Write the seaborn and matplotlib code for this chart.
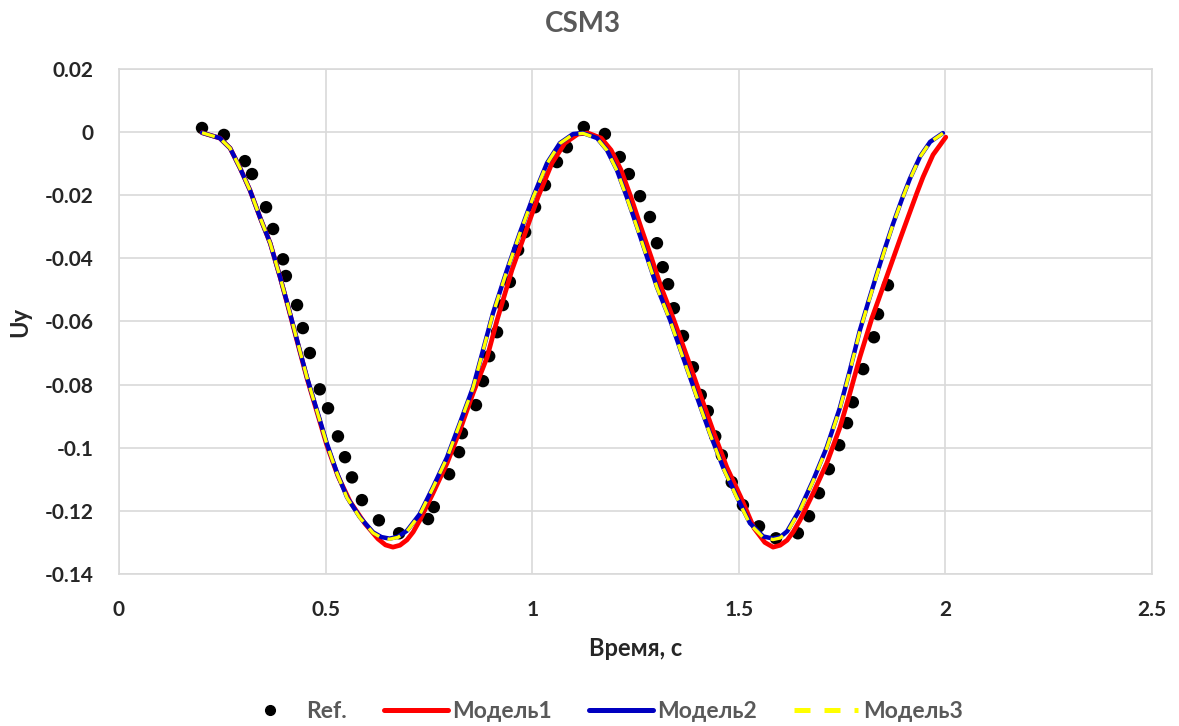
import pandas as pd
import matplotlib
matplotlib.use("Agg")
import matplotlib.pyplot as plt
import seaborn as sns
from matplotlib.lines import Line2D

# Reference points (Ref.)
ref_t = [0.201, 0.254, 0.305, 0.322, 0.356, 0.373, 0.397, 0.404, 0.431, 0.445,
         0.462, 0.486, 0.506, 0.530, 0.547, 0.564, 0.588, 0.629, 0.678, 0.748,
         0.762, 0.799, 0.823, 0.830, 0.864, 0.881, 0.896, 0.915, 0.929, 0.946,
         0.966, 0.983, 1.007, 1.031, 1.060, 1.084, 1.125, 1.176, 1.212, 1.234,
         1.261, 1.285, 1.302, 1.316, 1.329, 1.343, 1.365, 1.389, 1.408, 1.425,
         1.443, 1.459, 1.483, 1.510, 1.549, 1.590, 1.643, 1.670, 1.694, 1.718,
         1.743, 1.762, 1.776, 1.801, 1.827, 1.837, 1.861]
ref_uy = [0.0013, -0.0009, -0.0092, -0.0133, -0.0238, -0.0307, -0.0403, -0.0456, -0.0548, -0.0621,
          -0.0700, -0.0815, -0.0875, -0.0964, -0.1030, -0.1094, -0.1166, -0.1230, -0.1271, -0.1226,
          -0.1188, -0.1084, -0.1014, -0.0954, -0.0865, -0.0789, -0.0710, -0.0634, -0.0548, -0.0475,
          -0.0374, -0.0317, -0.0238, -0.0168, -0.0095, -0.0048, 0.0016, -0.0006, -0.0079, -0.0133,
          -0.0203, -0.0269, -0.0352, -0.0428, -0.0482, -0.0558, -0.0646, -0.0745, -0.0833, -0.0884,
          -0.0964, -0.1024, -0.1109, -0.1182, -0.1249, -0.1287, -0.1271, -0.1217, -0.1144, -0.1068,
          -0.0992, -0.0922, -0.0856, -0.0751, -0.0650, -0.0577, -0.0485]

# Модель1 (red)
m1_t = [0.201, 0.244, 0.269, 0.293, 0.317, 0.341, 0.366, 0.390, 0.409, 0.431,
        0.455, 0.479, 0.503, 0.530, 0.559, 0.595, 0.627, 0.645, 0.663, 0.680,
        0.697, 0.712, 0.728, 0.760, 0.794, 0.825, 0.857, 0.891, 0.915, 0.951,
        0.983, 1.014, 1.048, 1.079, 1.111, 1.135, 1.167, 1.191, 1.215, 1.239,
        1.263, 1.288, 1.312, 1.343, 1.375, 1.409, 1.440, 1.471, 1.505, 1.537,
        1.563, 1.583, 1.600, 1.617, 1.632, 1.648, 1.680, 1.713, 1.745, 1.769,
        1.793, 1.822, 1.849, 1.871, 1.890, 1.910, 1.931, 1.946, 1.970, 2.001]
m1_uy = [-0.0002, -0.0019, -0.0051, -0.0114, -0.0184, -0.0269, -0.0352, -0.0460, -0.0552, -0.0662,
         -0.0780, -0.0886, -0.0992, -0.1090, -0.1170, -0.1240, -0.1289, -0.1308, -0.1315, -0.1309,
         -0.1292, -0.1267, -0.1230, -0.1144, -0.1049, -0.0945, -0.0827, -0.0713, -0.0596, -0.0437,
         -0.0320, -0.0206, -0.0098, -0.0035, -0.0006, -0.0003, -0.0019, -0.0057, -0.0120, -0.0206,
         -0.0301, -0.0396, -0.0491, -0.0596, -0.0713, -0.0840, -0.0954, -0.1062, -0.1157, -0.1255,
         -0.1300, -0.1315, -0.1309, -0.1293, -0.1266, -0.1230, -0.1144, -0.1049, -0.0935, -0.0827,
         -0.0713, -0.0590, -0.0491, -0.0410, -0.0340, -0.0268, -0.0193, -0.0142, -0.0072, -0.0016]

# Модель2 (blue) and Модель3 (yellow dashed) share the time grid
m_t = [0.201, 0.244, 0.269, 0.293, 0.317, 0.341, 0.366, 0.390, 0.409, 0.431,
       0.455, 0.479, 0.503, 0.528, 0.552, 0.583, 0.615, 0.635, 0.655, 0.675,
       0.697, 0.728, 0.760, 0.794, 0.825, 0.857, 0.881, 0.905, 0.939, 0.970,
       1.002, 1.036, 1.067, 1.099, 1.123, 1.157, 1.181, 1.205, 1.229, 1.254,
       1.278, 1.302, 1.334, 1.365, 1.399, 1.430, 1.462, 1.496, 1.527, 1.559,
       1.583, 1.600, 1.617, 1.648, 1.680, 1.713, 1.745, 1.769, 1.793, 1.813,
       1.834, 1.854, 1.873, 1.895, 1.914, 1.939, 1.963, 1.994]
m2_uy = [-0.0002, -0.0019, -0.0051, -0.0114, -0.0184, -0.0269, -0.0352, -0.0460, -0.0550, -0.0659,
         -0.0777, -0.0881, -0.0986, -0.1081, -0.1157, -0.1220, -0.1268, -0.1283, -0.1288, -0.1282,
         -0.1263, -0.1210, -0.1125, -0.1030, -0.0922, -0.0808, -0.0691, -0.0574, -0.0437, -0.0320,
         -0.0206, -0.0098, -0.0035, -0.0006, -0.0003, -0.0019, -0.0057, -0.0120, -0.0206, -0.0301,
         -0.0396, -0.0491, -0.0596, -0.0713, -0.0840, -0.0954, -0.1062, -0.1157, -0.1239, -0.1281,
         -0.1288, -0.1283, -0.1265, -0.1195, -0.1103, -0.0998, -0.0872, -0.0754, -0.0628, -0.0540,
         -0.0450, -0.0367, -0.0292, -0.0212, -0.0148, -0.0077, -0.0031, -0.0003]
m3_uy = [-0.0002, -0.0019, -0.0051, -0.0114, -0.0184, -0.0269, -0.0352, -0.0460, -0.0550, -0.0659,
         -0.0778, -0.0883, -0.0988, -0.1083, -0.1159, -0.1222, -0.1270, -0.1285, -0.1290, -0.1284,
         -0.1265, -0.1212, -0.1127, -0.1032, -0.0924, -0.0810, -0.0693, -0.0576, -0.0439, -0.0322,
         -0.0208, -0.0100, -0.0036, -0.0007, -0.0004, -0.0020, -0.0058, -0.0122, -0.0208, -0.0303,
         -0.0398, -0.0493, -0.0598, -0.0715, -0.0842, -0.0956, -0.1064, -0.1160, -0.1242, -0.1284,
         -0.1291, -0.1286, -0.1268, -0.1198, -0.1106, -0.1001, -0.0875, -0.0757, -0.0631, -0.0543,
         -0.0453, -0.0370, -0.0294, -0.0214, -0.0150, -0.0078, -0.0032, -0.0004]

x_ticks = [0, 0.5, 1, 1.5, 2, 2.5]
x_tick_labels = ["0", "0.5", "1", "1.5", "2", "2.5"]
y_ticks = [0.02, 0, -0.02, -0.04, -0.06, -0.08, -0.1, -0.12, -0.14]
y_tick_labels = ["0.02", "0", "-0.02", "-0.04", "-0.06", "-0.08", "-0.1", "-0.12", "-0.14"]

sns.set_style("white")
plt.rcParams['font.family'] = ['Lato', 'DejaVu Sans']

ref_df = pd.DataFrame({'t': ref_t, 'uy': ref_uy})
m1_df = pd.DataFrame({'t': m1_t, 'uy': m1_uy})
m2_df = pd.DataFrame({'t': m_t, 'uy': m2_uy})
m3_df = pd.DataFrame({'t': m_t, 'uy': m3_uy})

fig = plt.figure(figsize=(11.79, 7.26), dpi=100)
ax = fig.add_axes([0.1009, 0.2094, 0.8762, 0.6956])

sns.scatterplot(data=ref_df, x='t', y='uy', ax=ax, color='black', s=80,
                edgecolor='none', zorder=2)
sns.lineplot(data=m1_df, x='t', y='uy', ax=ax, color='#ff0000', linewidth=3.4,
             sort=False, estimator=None, zorder=3, solid_joinstyle='round')
sns.lineplot(data=m2_df, x='t', y='uy', ax=ax, color='#0000c0', linewidth=3.2,
             sort=False, estimator=None, zorder=4, solid_joinstyle='round')
sns.lineplot(data=m3_df, x='t', y='uy', ax=ax, color='#ffff00', linewidth=2.4,
             sort=False, estimator=None, zorder=5, dashes=False,
             linestyle=(0, (4.0, 2.6)), dash_joinstyle='round')

ax.set_xlim(0, 2.5)
ax.set_ylim(-0.14, 0.02)
ax.set_xticks(x_ticks)
ax.set_xticklabels(x_tick_labels)
ax.set_yticks(y_ticks)
ax.set_yticklabels(y_tick_labels)
ax.grid(True, color='#d9d9d9', linewidth=1.2)
ax.set_axisbelow(True)
for sp in ax.spines.values():
    sp.set_color('#d9d9d9')
    sp.set_linewidth(1.2)
ax.tick_params(length=0, labelsize=15)
ax.tick_params(axis='x', pad=19)
ax.tick_params(axis='y', pad=18)
for lab in ax.get_xticklabels() + ax.get_yticklabels():
    lab.set_fontweight('bold')

ax.set_xlabel('Время, с', fontsize=17, fontweight='bold', labelpad=12)
ax.set_ylabel('Uy', fontsize=17, fontweight='bold', labelpad=10)
fig.suptitle('CSM3', x=0.494, y=0.985, fontsize=20, fontweight='bold', color='#595959')

handles = [
    Line2D([], [], marker='o', linestyle='none', color='black', markersize=7),
    Line2D([], [], color='#ff0000', linewidth=3.6),
    Line2D([], [], color='#0000c0', linewidth=3.6),
    Line2D([], [], color='#ffff00', linewidth=3.6, linestyle=(0, (3.2, 2.8))),
]
labels = ['Ref.', 'Модель1', 'Модель2', 'Модель3']
leg = fig.legend(handles, labels, loc='center', bbox_to_anchor=(0.509, 0.02),
                 ncol=4, frameon=False, handlelength=2.8, handletextpad=0.2,
                 columnspacing=1.6, prop={'size': 16.5, 'weight': 'bold'})
for txt in leg.get_texts():
    txt.set_color('#595959')

fig.savefig('out.png', dpi=100)
